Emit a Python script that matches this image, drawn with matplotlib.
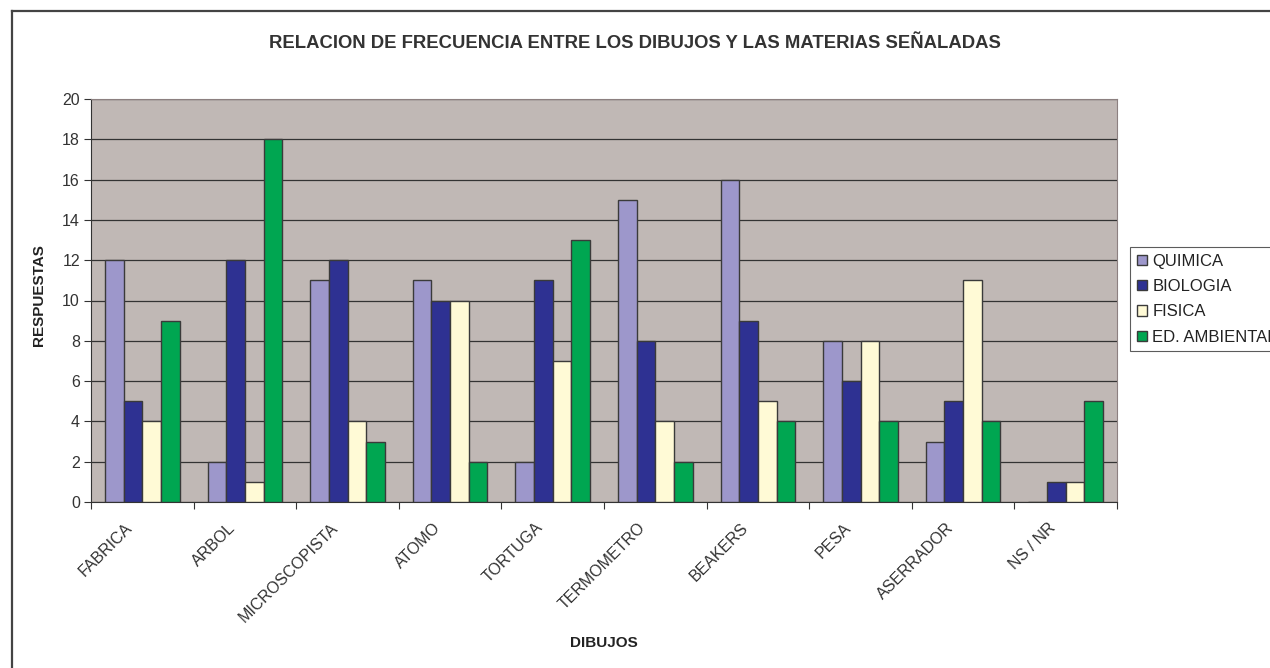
import numpy as np
import matplotlib.pyplot as plt

# =========================
# DATA
# =========================

categories = ["FABRICA", "ARBOL", "MICROSCOPISTA", "ATOMO", "TORTUGA",
              "TERMOMETRO", "BEAKERS", "PESA", "ASERRADOR", "NS / NR"]
series_names = ["QUIMICA", "BIOLOGIA", "FISICA", "ED. AMBIENTAL"]

quimica   = [12, 2, 11, 11, 2, 15, 16, 8, 3, 0]
biologia  = [5, 12, 12, 10, 11, 8, 9, 6, 5, 1]
fisica    = [4, 1, 4, 10, 7, 4, 5, 8, 11, 1]
ambiental = [9, 18, 3, 2, 13, 2, 4, 4, 4, 5]

y_ticks = list(range(0, 21, 2))

colors = ["#9D97CB", "#2E3192", "#FFFAD6", "#00A651"]

# =========================
# FIGURE
# =========================

plt.rcParams['font.family'] = ['Liberation Sans', 'DejaVu Sans']

fig = plt.figure(figsize=(12.7, 6.68), dpi=100)
ax = fig.add_axes([91 / 1270, 1 - 502 / 668, (1117 - 91) / 1270, (502 - 99) / 668])
ax.set_facecolor("#C0B8B5")

x = np.arange(len(categories))
w = 1 / 5.5
all_series = [quimica, biologia, fisica, ambiental]

for i, (vals, name, col) in enumerate(zip(all_series, series_names, colors)):
    ax.bar(x + (i - 1.5) * w, vals, width=w, color=col, edgecolor="#3A3A3A",
           linewidth=1.0, label=name, zorder=3)

ax.set_xlim(-0.5, len(categories) - 0.5)
ax.set_ylim(0, 20)
ax.set_yticks(y_ticks)
ax.yaxis.grid(True, color="#333333", linewidth=0.9, zorder=1)
ax.set_axisbelow(True)

# ticks between groups, labels at group centres
ax.set_xticks(np.arange(len(categories) + 1) - 0.5)
ax.set_xticklabels([])
ax.set_xticks(x - 0.17, minor=True)
ax.set_xticklabels(categories, minor=True, rotation=45, ha="right",
                   rotation_mode="anchor", fontsize=11.5, color="#333333")
ax.tick_params(axis="x", which="minor", length=0, pad=13)
ax.tick_params(axis="x", which="major", length=5, color="#333333")
ax.tick_params(axis="y", length=5, color="#333333", labelsize=11.5,
               labelcolor="#333333", pad=3)

for s in ["left", "bottom"]:
    ax.spines[s].set_color("#333333")
for s in ["top", "right"]:
    ax.spines[s].set_color("#8C8080")

ax.set_ylabel("RESPUESTAS", fontsize=11, fontweight="bold", color="#222222")
ax.yaxis.set_label_coords((46 - 91) / 1026, (502 - 295) / 403)
ax.set_xlabel("DIBUJOS", fontsize=11, fontweight="bold", color="#222222")
ax.xaxis.set_label_coords(0.5, (502 - 636) / 403)

fig.text(0.5, 1 - 44 / 668,
         "RELACION DE FRECUENCIA ENTRE LOS DIBUJOS Y LAS MATERIAS SEÑALADAS",
         ha="center", va="center", fontsize=13.3, fontweight="bold", color="#333333")

leg = ax.legend(loc="upper left", bbox_to_anchor=(1130 / 1270, 1 - 247 / 668),
                bbox_transform=fig.transFigure, fontsize=12, frameon=True,
                fancybox=False, edgecolor="#333333", handlelength=0.6,
                handleheight=0.6, handletextpad=0.35, labelspacing=0.62,
                borderpad=0.4, borderaxespad=0)
leg.get_frame().set_linewidth(0.8)
for t in leg.get_texts():
    t.set_color("#222222")

# outer chart frame (left and top edges only visible)
fig.add_artist(plt.Line2D([12 / 1270, 12 / 1270], [0, 1 - 11 / 668],
                          transform=fig.transFigure, color="#444444", linewidth=1.6))
fig.add_artist(plt.Line2D([12 / 1270, 1], [1 - 11 / 668, 1 - 11 / 668],
                          transform=fig.transFigure, color="#444444", linewidth=1.6))

fig.savefig("out.png", dpi=100)
